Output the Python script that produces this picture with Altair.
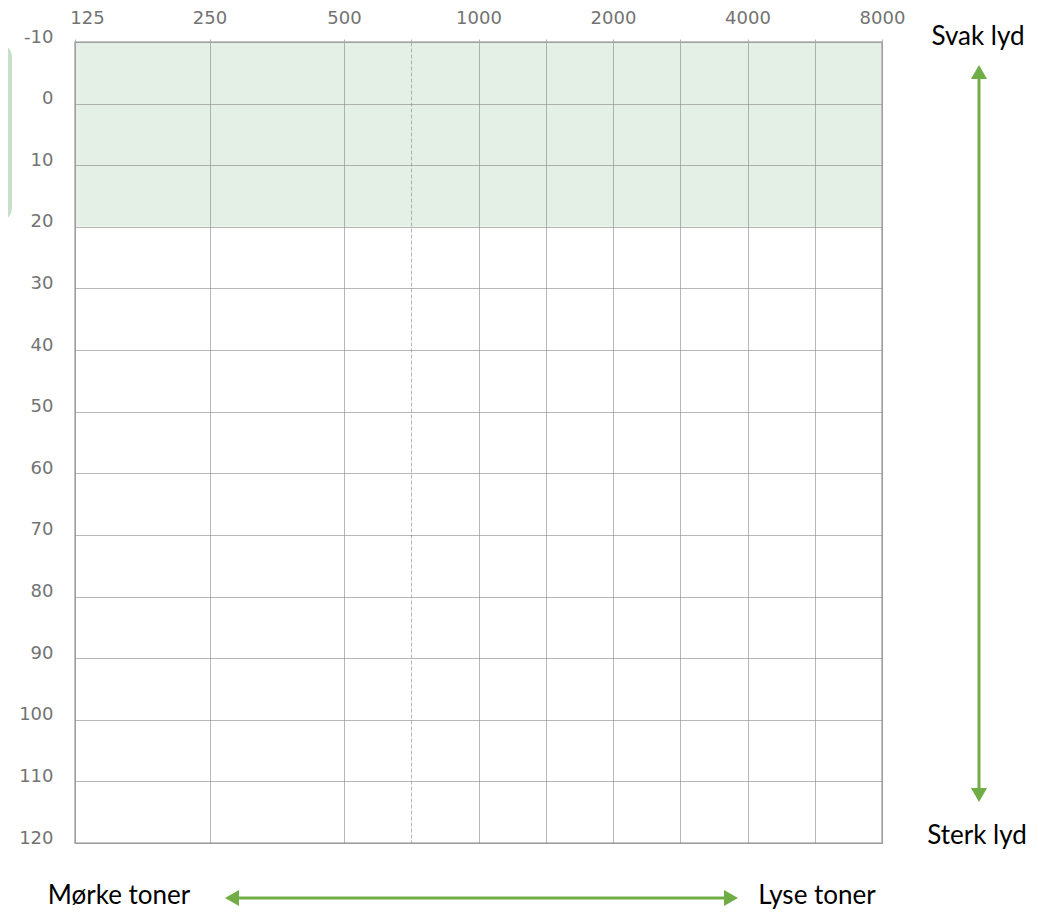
import math
import altair as alt
import pandas as pd

# ---- data -------------------------------------------------------------
octave_freqs = [125, 250, 500, 1000, 2000, 4000, 8000]   # labelled frequencies (Hz)
mid_freqs = [750, 1500, 3000, 6000]                       # half-octave grid lines (Hz)
db_ticks = list(range(-10, 121, 10))                      # hearing level (dB)
normal_band = [-10, 20]                                   # normal hearing zone (dB)
db_domain = [-10, 120]

# audiogram position: octaves above 125 Hz, half-octave lines midway
oct_pos = [math.log2(f / 125) for f in octave_freqs]
mid_pos = [math.log2(f / 1.5 / 125) + 0.5 for f in mid_freqs]
grid_pos = sorted(oct_pos + mid_pos)
x_domain = [oct_pos[0], oct_pos[-1]]

label_expr = "".join(
    f"datum.value == {p:g} ? '{f}' : " for p, f in zip(oct_pos, octave_freqs)
) + "''"

W, H = 807, 801
GREEN = "#70ad47"
LABEL_FONT = "DejaVu Sans"
ANNOT_FONT = "Lato"

band_df = pd.DataFrame({"x": [x_domain[0]], "x2": [x_domain[1]],
                        "y": [normal_band[0]], "y2": [normal_band[1]]})
frame_df = pd.DataFrame({"x": [x_domain[0]], "x2": [x_domain[1]],
                         "y": [db_domain[0]], "y2": [db_domain[1]]})
one = pd.DataFrame({"k": [0]})

xscale = alt.Scale(domain=x_domain, nice=False, zero=False)
yscale = alt.Scale(domain=db_domain, reverse=True, nice=False, zero=False)

x_axis = alt.Axis(
    orient="top", values=grid_pos, labelExpr=label_expr, title=None,
    grid=True, gridColor="#8a8a8a", gridOpacity=0.62, gridWidth=1,
    gridDash={"condition": {"test": "datum.value == 2.5", "value": [4, 2]}, "value": []},
    ticks=True, tickSize=3, tickColor="#b0b0b0", domain=False,
    labelFont=LABEL_FONT, labelFontSize=18, labelColor="#737373",
    labelPadding=12, labelFlush=False,
    labelOffset={"condition": {"test": "datum.value == 0", "value": 12}, "value": 0},
    zindex=1,
)
y_axis = alt.Axis(
    values=db_ticks, title=None, grid=True, gridColor="#8a8a8a",
    gridOpacity=0.62, gridWidth=1, ticks=False, tickSize=0, domain=False,
    labelExpr="datum.value < 0 ? '-' + abs(datum.value) : '' + datum.value",
    labelFont=LABEL_FONT, labelFontSize=18, labelColor="#737373",
    labelPadding=22, labelOffset=-5, zindex=1,
)

band = alt.Chart(band_df).mark_rect(fill="#e4efe5").encode(
    x=alt.X("x:Q", scale=xscale, axis=x_axis),
    x2="x2:Q",
    y=alt.Y("y:Q", scale=yscale, axis=y_axis),
    y2="y2:Q",
)

frame = alt.Chart(frame_df).mark_rect(
    fillOpacity=0, stroke="#b3b3b3", strokeWidth=1.6
).encode(x="x:Q", x2="x2:Q", y="y:Q", y2="y2:Q")

# left cut-off green box (decoration)
side_box = alt.Chart(one).mark_rect(fill="#c6dfc6", cornerRadius=14).encode(
    x=alt.value(-110), x2=alt.value(-63), y=alt.value(1), y2=alt.value(180)
)

# arrows
v_shaft = alt.Chart(one).mark_rule(color=GREEN, strokeWidth=3).encode(
    x=alt.value(904), y=alt.value(30), y2=alt.value(752)
)
v_up = alt.Chart(one).mark_point(shape="triangle-up", filled=True, fill=GREEN,
                                  opacity=1, size=260).encode(x=alt.value(904), y=alt.value(30))
v_down = alt.Chart(one).mark_point(shape="triangle-down", filled=True, fill=GREEN,
                                    opacity=1, size=260).encode(x=alt.value(904), y=alt.value(753))
h_shaft = alt.Chart(one).mark_rule(color=GREEN, strokeWidth=3).encode(
    x=alt.value(157), x2=alt.value(656), y=alt.value(856)
)
h_left = alt.Chart(one).mark_point(shape="triangle-left", filled=True, fill=GREEN,
                                    opacity=1, size=260).encode(x=alt.value(157), y=alt.value(856))
h_right = alt.Chart(one).mark_point(shape="triangle-right", filled=True, fill=GREEN,
                                     opacity=1, size=260).encode(x=alt.value(656), y=alt.value(856))

def label(text, x, y, size=26):
    return alt.Chart(one).mark_text(
        text=text, font=ANNOT_FONT, fontSize=size, color="#000000",
        align="center", baseline="middle"
    ).encode(x=alt.value(x), y=alt.value(y))

texts = [
    label("Svak lyd", 903, -5),
    label("Sterk lyd", 902, 794),
    label("Mørke toner", 44, 854),
    label("Lyse toner", 742, 854),
]

chart = alt.layer(
    band, frame, side_box, v_shaft, v_up, v_down, h_shaft, h_left, h_right, *texts
).properties(
    width=W, height=H,
    autosize=alt.AutoSizeParams(type="none"),
    padding={"left": 67, "top": 34, "right": 148, "bottom": 70},
).configure_view(stroke="transparent").configure(background="white")

chart.save("out.html", embed_options={"renderer": "svg", "actions": False})
